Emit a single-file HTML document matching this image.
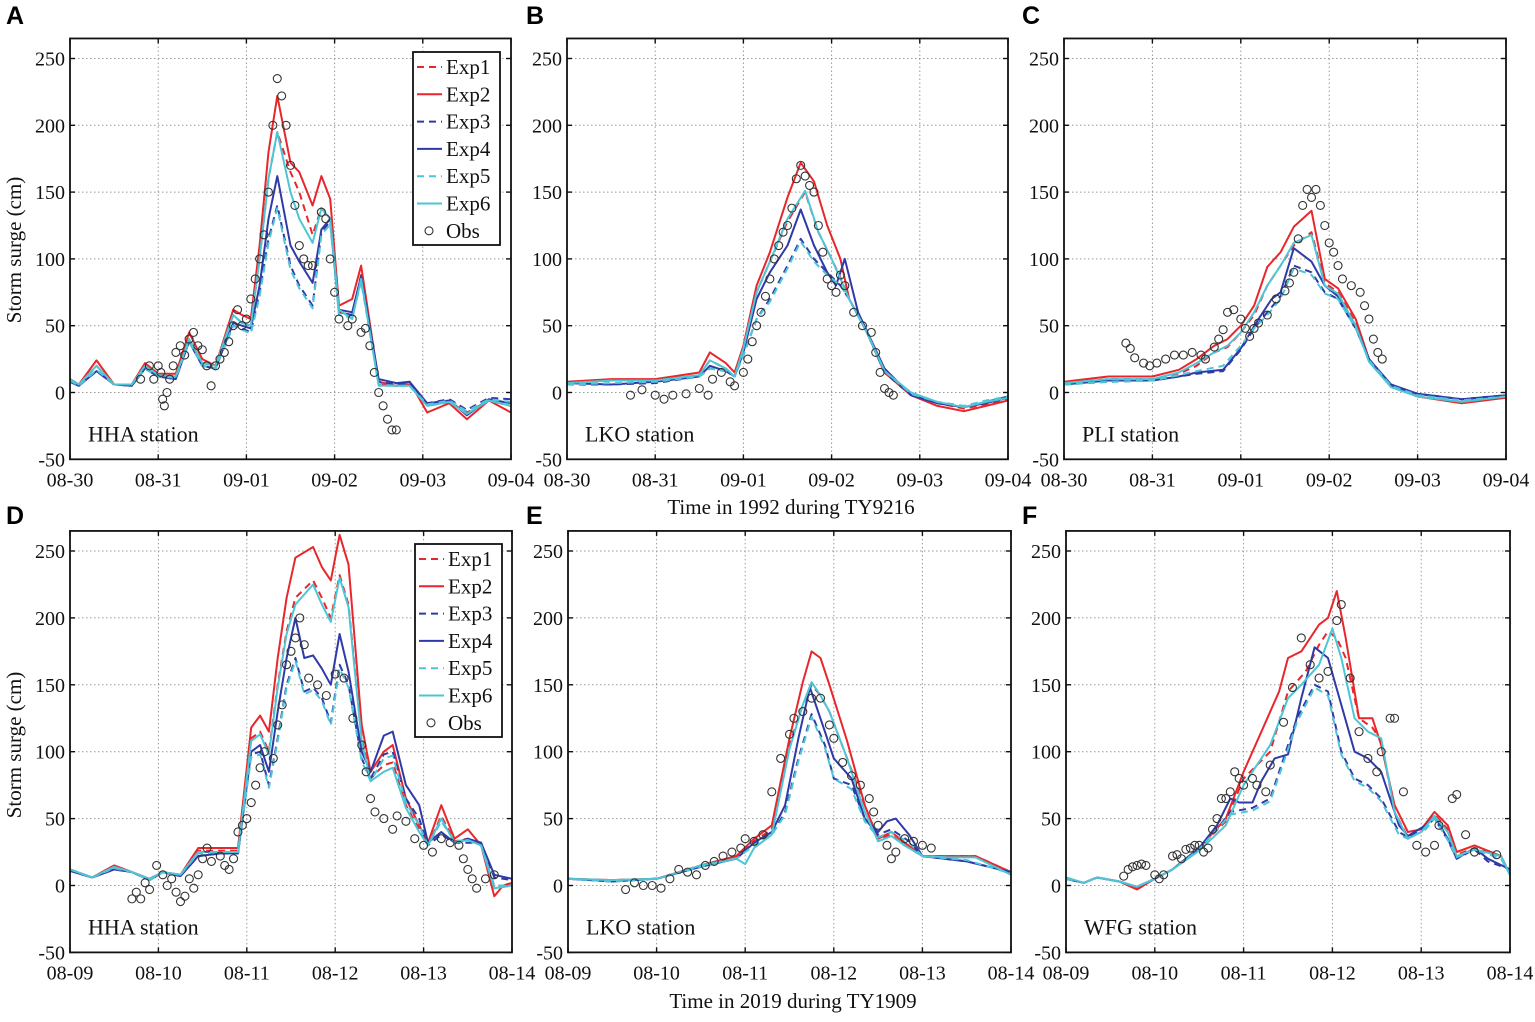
<!DOCTYPE html>
<html><head><meta charset="utf-8"><style>
html,body{margin:0;padding:0;background:#fff;}
svg{display:block;}
text{font-family:"Liberation Serif",serif;fill:#111;}
.lab{font-family:"Liberation Sans",sans-serif;font-weight:bold;font-size:25px;fill:#000;}
</style></head><body>
<svg id="fig" width="1535" height="1022" viewBox="0 0 1535 1022" xmlns="http://www.w3.org/2000/svg">
<text class="lab" x="6" y="24">A</text>
<text class="lab" x="526" y="24">B</text>
<text class="lab" x="1022" y="24">C</text>
<text class="lab" x="6" y="524">D</text>
<text class="lab" x="526" y="524">E</text>
<text class="lab" x="1022" y="524">F</text>
<text x="21" y="250" font-size="21" text-anchor="middle" transform="rotate(-90 21 250)">Storm surge (cm)</text>
<text x="21" y="745" font-size="21" text-anchor="middle" transform="rotate(-90 21 745)">Storm surge (cm)</text>
<text x="791" y="514" font-size="21" text-anchor="middle">Time in 1992 during TY9216</text>
<text x="793" y="1008" font-size="21" text-anchor="middle">Time in 2019 during TY1909</text>
</svg>
<script>
const yTicks=[250,200,150,100,50,0,-50];
const xTicks1992=["08-30","08-31","09-01","09-02","09-03","09-04"];
const xTicks2019=["08-09","08-10","08-11","08-12","08-13","08-14"];
const seriesNames=["Exp1","Exp2","Exp3","Exp4","Exp5","Exp6"];

// Panel A HHA 1992
const A_exp1=[[0,10],[0.1,6],[0.3,20],[0.5,6],[0.7,6],[0.85,20],[1.0,13],[1.2,12],[1.35,40],[1.5,22],[1.65,20],[1.85,58],[1.95,52],[2.05,50],[2.15,100],[2.25,160],[2.35,195],[2.5,165],[2.6,150],[2.75,118],[2.85,138],[2.95,130],[3.05,60],[3.2,58],[3.3,88],[3.5,6],[3.7,5],[3.85,6],[4.05,-10],[4.3,-7],[4.5,-15],[4.75,-6],[5.0,-10]];
const A_exp2=[[0,10],[0.1,6],[0.3,24],[0.5,6],[0.7,6],[0.85,22],[1.0,14],[1.2,14],[1.35,45],[1.5,25],[1.65,20],[1.85,62],[1.95,58],[2.05,55],[2.15,110],[2.25,180],[2.35,222],[2.5,172],[2.6,165],[2.75,140],[2.85,162],[2.95,145],[3.05,65],[3.2,70],[3.3,95],[3.5,8],[3.7,5],[3.85,8],[4.05,-15],[4.3,-8],[4.5,-20],[4.75,-6],[5.0,-15]];
const A_exp3=[[0,8],[0.1,5],[0.3,16],[0.5,6],[0.7,5],[0.85,18],[1.0,12],[1.2,10],[1.35,38],[1.5,20],[1.65,18],[1.85,50],[1.95,48],[2.05,45],[2.15,75],[2.25,115],[2.35,140],[2.5,95],[2.6,80],[2.75,65],[2.85,120],[2.95,128],[3.05,60],[3.2,58],[3.3,85],[3.5,8],[3.7,6],[3.85,6],[4.05,-8],[4.3,-5],[4.5,-13],[4.75,-4],[5.0,-5]];
const A_exp4=[[0,8],[0.1,5],[0.3,16],[0.5,6],[0.7,5],[0.85,18],[1.0,12],[1.2,10],[1.35,38],[1.5,20],[1.65,18],[1.85,52],[1.95,50],[2.05,48],[2.15,80],[2.25,130],[2.35,162],[2.5,110],[2.6,98],[2.75,82],[2.85,122],[2.95,130],[3.05,62],[3.2,60],[3.3,87],[3.5,10],[3.7,7],[3.85,8],[4.05,-8],[4.3,-6],[4.5,-17],[4.75,-5],[5.0,-8]];
const A_exp5=[[0,9],[0.1,5],[0.3,17],[0.5,6],[0.7,6],[0.85,18],[1.0,12],[1.2,11],[1.35,38],[1.5,20],[1.65,18],[1.85,50],[1.95,47],[2.05,44],[2.15,72],[2.25,112],[2.35,138],[2.5,92],[2.6,78],[2.75,63],[2.85,118],[2.95,126],[3.05,58],[3.2,56],[3.3,83],[3.5,6],[3.7,5],[3.85,5],[4.05,-9],[4.3,-6],[4.5,-14],[4.75,-5],[5.0,-7]];
const A_exp6=[[0,10],[0.1,6],[0.3,20],[0.5,6],[0.7,6],[0.85,20],[1.0,13],[1.2,12],[1.35,40],[1.5,22],[1.65,20],[1.85,58],[1.95,52],[2.05,50],[2.15,100],[2.25,160],[2.35,195],[2.5,150],[2.6,130],[2.75,112],[2.85,138],[2.95,130],[3.05,62],[3.2,55],[3.3,85],[3.5,5],[3.7,5],[3.85,5],[4.05,-10],[4.3,-7],[4.5,-16],[4.75,-6],[5.0,-10]];
const A_obs=[[0.8,10],[0.9,20],[0.95,10],[1.0,20],[1.03,15],[1.05,-5],[1.07,-10],[1.1,0],[1.13,10],[1.17,20],[1.2,30],[1.25,35],[1.3,28],[1.35,40],[1.4,45],[1.45,35],[1.5,32],[1.55,20],[1.6,5],[1.65,20],[1.7,25],[1.75,30],[1.8,38],[1.85,50],[1.9,62],[1.95,50],[2.0,55],[2.05,70],[2.1,85],[2.15,100],[2.2,118],[2.25,150],[2.3,200],[2.35,235],[2.4,222],[2.45,200],[2.5,170],[2.55,140],[2.6,110],[2.65,100],[2.7,95],[2.75,95],[2.85,135],[2.9,130],[2.95,100],[3.0,75],[3.05,55],[3.15,50],[3.2,55],[3.3,45],[3.35,48],[3.4,35],[3.45,15],[3.5,0],[3.55,-10],[3.6,-20],[3.65,-28],[3.7,-28]];

// Panel B LKO 1992
const B_exp1=[[0,7],[0.5,9],[1.0,9],[1.5,13],[1.62,24],[1.8,18],[1.9,12],[2.0,33],[2.15,75],[2.3,98],[2.5,128],[2.7,150],[2.85,120],[3.0,100],[3.1,86],[3.2,70],[3.4,45],[3.6,15],[3.9,-2],[4.2,-8],[4.5,-12],[4.75,-9],[5.0,-5]];
const B_exp2=[[0,8],[0.5,10],[1.0,10],[1.5,15],[1.62,30],[1.8,22],[1.9,15],[2.0,35],[2.15,80],[2.3,105],[2.5,146],[2.65,172],[2.8,158],[2.95,125],[3.1,100],[3.2,70],[3.4,45],[3.6,15],[3.9,-2],[4.2,-10],[4.5,-14],[4.75,-10],[5.0,-6]];
const B_exp3=[[0,6],[0.5,6],[1.0,7],[1.5,12],[1.62,18],[1.8,16],[1.9,12],[2.0,28],[2.15,55],[2.3,70],[2.5,95],[2.65,115],[2.8,100],[2.95,90],[3.1,80],[3.2,70],[3.4,45],[3.6,15],[3.9,-2],[4.2,-8],[4.5,-11],[4.75,-7],[5.0,-3]];
const B_exp4=[[0,7],[0.5,6],[1.0,8],[1.5,12],[1.62,20],[1.8,16],[1.9,12],[2.0,30],[2.15,70],[2.3,90],[2.5,110],[2.65,137],[2.8,110],[2.95,90],[3.05,80],[3.15,100],[3.3,60],[3.6,18],[3.9,-2],[4.2,-8],[4.5,-11],[4.75,-8],[5.0,-4]];
const B_exp5=[[0,6],[0.5,7],[1.0,8],[1.5,12],[1.62,18],[1.8,16],[1.9,12],[2.0,28],[2.15,55],[2.3,68],[2.5,93],[2.65,113],[2.8,98],[2.95,88],[3.1,80],[3.2,70],[3.4,45],[3.6,16],[3.9,-1],[4.2,-7],[4.5,-10],[4.75,-6],[5.0,-3]];
const B_exp6=[[0,7],[0.5,9],[1.0,9],[1.5,13],[1.62,24],[1.8,18],[1.9,12],[2.0,33],[2.15,75],[2.3,98],[2.5,130],[2.7,151],[2.85,120],[3.0,100],[3.1,85],[3.2,70],[3.4,45],[3.6,16],[3.9,0],[4.2,-7],[4.5,-11],[4.75,-7],[5.0,-4]];
const B_obs=[[0.72,-2],[0.85,2],[1.0,-2],[1.1,-5],[1.2,-2],[1.35,-1],[1.5,3],[1.6,-2],[1.65,10],[1.75,15],[1.85,8],[1.9,5],[2.0,15],[2.05,25],[2.1,38],[2.15,50],[2.2,60],[2.25,72],[2.3,85],[2.35,100],[2.4,110],[2.45,120],[2.5,125],[2.55,138],[2.6,160],[2.65,170],[2.7,162],[2.75,155],[2.8,150],[2.85,125],[2.9,105],[2.95,85],[3.0,80],[3.05,75],[3.1,88],[3.15,80],[3.25,60],[3.35,50],[3.45,45],[3.5,30],[3.55,15],[3.6,3],[3.65,0],[3.7,-2]];

// Panel C PLI 1992
const C_exp1=[[0,7],[0.5,10],[1.0,10],[1.3,14],[1.5,20],[1.7,30],[1.85,34],[2.0,45],[2.15,58],[2.3,80],[2.45,95],[2.6,110],[2.8,120],[2.95,82],[3.1,75],[3.3,52],[3.45,25],[3.7,5],[4.0,-3],[4.5,-7],[5.0,-3]];
const C_exp2=[[0,8],[0.5,12],[1.0,12],[1.3,17],[1.5,25],[1.7,35],[1.85,40],[2.0,50],[2.15,65],[2.3,94],[2.45,105],[2.6,124],[2.8,136],[2.95,85],[3.1,78],[3.3,55],[3.45,25],[3.7,5],[4.0,-3],[4.5,-8],[5.0,-4]];
const C_exp3=[[0,6],[0.5,8],[1.0,9],[1.3,12],[1.5,14],[1.8,16],[2.0,32],[2.15,48],[2.3,60],[2.45,72],[2.6,95],[2.8,90],[2.95,75],[3.1,70],[3.3,48],[3.45,25],[3.7,5],[4.0,-1],[4.5,-5],[5.0,-2]];
const C_exp4=[[0,6],[0.5,9],[1.0,9],[1.3,12],[1.5,15],[1.8,17],[2.0,33],[2.2,55],[2.35,70],[2.45,75],[2.6,108],[2.8,98],[2.95,80],[3.1,72],[3.3,50],[3.45,25],[3.7,6],[4.0,-1],[4.5,-5],[5.0,-2]];
const C_exp5=[[0,6],[0.5,8],[1.0,9],[1.3,13],[1.5,16],[1.8,20],[2.0,35],[2.15,48],[2.3,58],[2.45,70],[2.6,93],[2.8,88],[2.95,74],[3.1,70],[3.3,48],[3.45,24],[3.7,5],[4.0,-2],[4.5,-6],[5.0,-3]];
const C_exp6=[[0,7],[0.5,10],[1.0,10],[1.3,15],[1.5,22],[1.7,30],[1.85,35],[2.0,45],[2.15,60],[2.3,80],[2.45,95],[2.6,112],[2.8,118],[2.95,80],[3.1,74],[3.3,50],[3.45,23],[3.7,4],[4.0,-3],[4.5,-7],[5.0,-3]];
const C_obs=[[0.7,37],[0.75,33],[0.8,26],[0.9,22],[0.97,20],[1.05,22],[1.15,25],[1.25,28],[1.35,28],[1.45,30],[1.55,28],[1.6,25],[1.7,34],[1.75,40],[1.8,47],[1.85,60],[1.92,62],[2.0,55],[2.05,48],[2.1,42],[2.15,48],[2.2,52],[2.3,58],[2.4,70],[2.5,76],[2.55,82],[2.6,90],[2.65,115],[2.7,140],[2.75,152],[2.8,146],[2.85,152],[2.9,140],[2.95,125],[3.0,112],[3.05,105],[3.1,95],[3.15,85],[3.25,80],[3.35,75],[3.4,65],[3.45,55],[3.5,40],[3.55,30],[3.6,25]];

// Panel D HHA 2019
const D_exp1=[[0,12],[0.25,6],[0.5,14],[0.7,10],[0.9,5],[1.05,10],[1.25,8],[1.45,26],[1.7,26],[1.9,26],[2.05,110],[2.15,115],[2.25,100],[2.35,150],[2.45,190],[2.55,215],[2.75,228],[2.85,215],[2.95,200],[3.05,232],[3.15,210],[3.3,110],[3.4,80],[3.55,90],[3.65,92],[3.8,60],[3.95,42],[4.05,30],[4.2,52],[4.35,33],[4.5,35],[4.65,30],[4.8,-2],[5.0,0]];
const D_exp2=[[0,12],[0.25,6],[0.5,15],[0.7,10],[0.9,5],[1.05,10],[1.25,8],[1.45,28],[1.7,28],[1.9,28],[2.05,118],[2.15,127],[2.25,115],[2.35,170],[2.45,215],[2.55,245],[2.75,253],[2.85,238],[2.95,228],[3.05,262],[3.15,240],[3.3,120],[3.4,85],[3.55,100],[3.65,105],[3.8,65],[3.95,45],[4.05,32],[4.2,60],[4.35,35],[4.5,42],[4.65,30],[4.8,-8],[4.9,0],[5.0,2]];
const D_exp3=[[0,11],[0.25,6],[0.5,12],[0.7,10],[0.9,4],[1.05,10],[1.25,7],[1.45,22],[1.7,24],[1.9,24],[2.05,98],[2.15,100],[2.25,75],[2.35,110],[2.45,150],[2.55,170],[2.65,145],[2.75,148],[2.85,140],[2.95,122],[3.05,165],[3.15,150],[3.3,95],[3.4,80],[3.55,98],[3.65,100],[3.8,65],[3.95,50],[4.05,30],[4.2,38],[4.35,32],[4.5,32],[4.65,32],[4.8,6],[5.0,4]];
const D_exp4=[[0,11],[0.25,6],[0.5,12],[0.7,10],[0.9,4],[1.05,10],[1.25,7],[1.45,22],[1.7,24],[1.9,24],[2.05,100],[2.15,105],[2.25,85],[2.35,130],[2.45,170],[2.55,200],[2.65,170],[2.75,172],[2.85,162],[2.95,150],[3.05,188],[3.15,160],[3.3,100],[3.4,85],[3.55,112],[3.65,115],[3.8,75],[3.95,60],[4.05,32],[4.2,40],[4.35,32],[4.5,35],[4.65,32],[4.8,8],[5.0,5]];
const D_exp5=[[0,12],[0.25,6],[0.5,13],[0.7,10],[0.9,4],[1.05,10],[1.25,8],[1.45,24],[1.7,25],[1.9,25],[2.05,96],[2.15,98],[2.25,73],[2.35,108],[2.45,148],[2.55,168],[2.65,143],[2.75,146],[2.85,138],[2.95,120],[3.05,162],[3.15,148],[3.3,93],[3.4,78],[3.55,95],[3.65,97],[3.8,62],[3.95,45],[4.05,30],[4.2,48],[4.35,33],[4.5,34],[4.65,30],[4.8,0],[5.0,0]];
const D_exp6=[[0,12],[0.25,6],[0.5,14],[0.7,10],[0.9,5],[1.05,10],[1.25,8],[1.45,25],[1.7,25],[1.9,25],[2.05,108],[2.15,113],[2.25,98],[2.35,148],[2.45,188],[2.55,210],[2.75,225],[2.85,210],[2.95,197],[3.05,230],[3.15,208],[3.3,108],[3.4,78],[3.55,85],[3.65,88],[3.8,58],[3.95,40],[4.05,30],[4.2,50],[4.35,32],[4.5,34],[4.65,30],[4.8,-2],[5.0,0]];
const D_obs=[[0.7,-10],[0.75,-5],[0.8,-10],[0.85,2],[0.9,-3],[0.98,15],[1.05,8],[1.1,0],[1.15,5],[1.2,-5],[1.25,-12],[1.3,-8],[1.35,5],[1.4,-2],[1.45,8],[1.5,20],[1.55,28],[1.6,18],[1.7,22],[1.75,15],[1.8,12],[1.85,20],[1.9,40],[1.95,45],[2.0,50],[2.05,62],[2.1,75],[2.15,88],[2.2,100],[2.3,95],[2.35,120],[2.4,135],[2.45,165],[2.5,175],[2.55,185],[2.6,200],[2.65,180],[2.7,155],[2.8,150],[2.9,142],[3.0,158],[3.1,155],[3.2,125],[3.3,105],[3.35,85],[3.4,65],[3.45,55],[3.55,50],[3.65,42],[3.7,52],[3.8,48],[3.9,35],[4.0,30],[4.1,25],[4.2,35],[4.3,32],[4.4,30],[4.45,20],[4.5,12],[4.55,5],[4.6,-2],[4.7,5],[4.8,8]];

// Panel E LKO 2019
const E_exp1=[[0,5],[0.5,4],[1.0,5],[1.5,15],[1.9,22],[2.1,33],[2.3,42],[2.5,105],[2.65,135],[2.75,150],[2.85,142],[2.95,130],[3.15,95],[3.35,60],[3.5,35],[3.65,38],[3.8,30],[4.0,22],[4.3,22],[4.6,22],[5.0,10]];
const E_exp2=[[0,5],[0.5,4],[1.0,5],[1.5,15],[1.9,22],[2.1,35],[2.3,45],[2.5,110],[2.65,152],[2.75,175],[2.85,170],[2.95,150],[3.15,108],[3.35,60],[3.5,35],[3.65,40],[3.8,32],[4.0,22],[4.3,22],[4.6,22],[5.0,10]];
const E_exp3=[[0,5],[0.5,3],[1.0,5],[1.5,14],[1.9,20],[2.1,32],[2.3,38],[2.45,55],[2.6,95],[2.75,128],[2.9,105],[3.0,80],[3.2,75],[3.35,50],[3.5,38],[3.65,42],[3.85,33],[4.0,22],[4.5,18],[5.0,10]];
const E_exp4=[[0,5],[0.5,3],[1.0,5],[1.5,14],[1.9,20],[2.1,32],[2.3,40],[2.45,60],[2.6,110],[2.73,148],[2.9,115],[3.0,95],[3.2,80],[3.35,50],[3.5,40],[3.6,48],[3.7,50],[3.85,38],[4.0,22],[4.5,18],[5.0,10]];
const E_exp5=[[0,5],[0.5,3],[1.0,5],[1.5,14],[1.9,20],[2.1,30],[2.3,38],[2.45,53],[2.6,93],[2.75,126],[2.9,103],[3.0,80],[3.2,72],[3.35,48],[3.5,36],[3.65,40],[3.85,32],[4.0,22],[4.5,19],[5.0,9]];
const E_exp6=[[0,5],[0.5,4],[1.0,5],[1.5,15],[1.9,20],[2.0,16],[2.1,28],[2.3,38],[2.5,102],[2.65,135],[2.75,152],[2.85,142],[2.95,130],[3.15,95],[3.35,55],[3.5,33],[3.65,37],[3.8,30],[4.0,22],[4.3,21],[4.6,21],[5.0,8]];
const E_obs=[[0.65,-3],[0.75,2],[0.85,0],[0.95,0],[1.05,-2],[1.15,5],[1.25,12],[1.35,10],[1.45,8],[1.55,15],[1.65,18],[1.75,22],[1.85,25],[1.95,28],[2.0,35],[2.1,33],[2.2,38],[2.3,70],[2.4,95],[2.5,113],[2.55,125],[2.65,130],[2.75,140],[2.85,140],[2.95,120],[3.0,110],[3.1,92],[3.2,82],[3.3,75],[3.4,65],[3.45,55],[3.5,45],[3.6,30],[3.65,20],[3.7,25],[3.8,35],[3.9,33],[4.0,30],[4.1,28]];

// Panel F WFG 2019
const F_exp1=[[0,5],[0.2,2],[0.35,6],[0.6,3],[0.8,-2],[1.0,5],[1.2,12],[1.5,28],[1.8,48],[2.0,80],[2.3,100],[2.5,145],[2.7,160],[2.85,180],[2.95,190],[3.05,185],[3.15,170],[3.3,125],[3.45,118],[3.55,108],[3.7,55],[3.85,36],[4.0,40],[4.15,53],[4.3,42],[4.4,23],[4.6,28],[4.9,22],[5.0,8]];
const F_exp2=[[0,5],[0.2,2],[0.35,6],[0.6,3],[0.8,-3],[1.0,5],[1.2,12],[1.5,28],[1.8,50],[2.0,85],[2.2,115],[2.4,145],[2.5,170],[2.65,175],[2.85,195],[2.95,200],[3.05,220],[3.15,185],[3.3,125],[3.45,125],[3.55,105],[3.7,60],[3.85,40],[4.0,42],[4.15,55],[4.3,45],[4.4,25],[4.6,30],[4.9,22],[5.0,8]];
const F_exp3=[[0,5],[0.2,2],[0.35,6],[0.6,3],[0.8,-1],[1.0,5],[1.2,12],[1.5,28],[1.7,42],[1.85,55],[2.1,58],[2.3,65],[2.45,95],[2.6,125],[2.8,150],[2.95,145],[3.1,100],[3.25,80],[3.4,75],[3.55,65],[3.75,40],[3.85,36],[4.05,44],[4.15,50],[4.3,34],[4.4,20],[4.6,27],[4.75,18],[5.0,12]];
const F_exp4=[[0,5],[0.2,2],[0.35,6],[0.6,3],[0.8,-1],[1.0,5],[1.2,12],[1.5,28],[1.7,45],[1.85,65],[1.95,62],[2.1,62],[2.2,78],[2.35,95],[2.5,98],[2.65,140],[2.8,178],[2.95,170],[3.1,135],[3.25,100],[3.4,95],[3.55,85],[3.75,45],[3.85,37],[4.05,45],[4.15,52],[4.3,35],[4.4,20],[4.6,28],[4.75,20],[5.0,12]];
const F_exp5=[[0,5],[0.2,2],[0.35,6],[0.6,3],[0.8,-1],[1.0,5],[1.2,12],[1.5,27],[1.7,42],[1.85,53],[2.1,56],[2.3,63],[2.45,92],[2.6,122],[2.8,148],[2.95,142],[3.1,98],[3.25,78],[3.4,73],[3.55,63],[3.75,38],[3.85,35],[4.05,42],[4.15,50],[4.3,34],[4.4,21],[4.6,27],[4.9,20],[5.0,8]];
const F_exp6=[[0,6],[0.2,2],[0.35,6],[0.6,3],[0.8,-1],[1.0,5],[1.2,12],[1.5,26],[1.8,45],[2.0,75],[2.3,105],[2.5,140],[2.65,150],[2.85,165],[3.0,192],[3.1,170],[3.25,125],[3.4,115],[3.55,110],[3.7,55],[3.85,35],[4.0,40],[4.15,52],[4.3,40],[4.4,22],[4.6,27],[4.9,22],[5.0,8]];
const F_obs=[[0.65,7],[0.7,12],[0.75,14],[0.8,15],[0.85,16],[0.9,15],[1.0,8],[1.05,5],[1.1,8],[1.2,22],[1.25,23],[1.3,20],[1.35,27],[1.4,28],[1.45,30],[1.5,30],[1.55,25],[1.6,28],[1.65,42],[1.7,50],[1.75,65],[1.8,65],[1.85,70],[1.9,85],[1.95,80],[2.0,75],[2.1,80],[2.15,75],[2.25,70],[2.3,90],[2.45,122],[2.55,148],[2.65,185],[2.75,165],[2.85,155],[2.95,160],[3.05,198],[3.1,210],[3.2,155],[3.3,115],[3.4,95],[3.5,85],[3.55,100],[3.65,125],[3.7,125],[3.8,70],[3.95,30],[4.05,25],[4.15,30],[4.2,45],[4.35,65],[4.4,68],[4.5,38],[4.6,25],[4.85,23]];

const styles=[{c:"#e8262b",d:"7,5"},{c:"#e8262b",d:""},{c:"#2f3aa8",d:"7,5"},{c:"#2f3aa8",d:""},{c:"#4cc6d6",d:"7,5"},{c:"#4cc6d6",d:""}];
const NS="http://www.w3.org/2000/svg";
const svg=document.getElementById('fig');
function mk(tag,attrs,parent){const e=document.createElementNS(NS,tag);for(const k in attrs)e.setAttribute(k,attrs[k]);(parent||svg).appendChild(e);return e;}

const panels=[
 {id:"a",x0:70,x1:511,y0:392.5,y250:58.5,st:"HHA station",ticks:xTicks1992,s:[A_exp1,A_exp2,A_exp3,A_exp4,A_exp5,A_exp6],o:A_obs,leg:[413,52]},
 {id:"b",x0:567,x1:1008,y0:392.5,y250:58.5,st:"LKO station",ticks:xTicks1992,s:[B_exp1,B_exp2,B_exp3,B_exp4,B_exp5,B_exp6],o:B_obs},
 {id:"c",x0:1064,x1:1506,y0:392.5,y250:58.5,st:"PLI station",ticks:xTicks1992,s:[C_exp1,C_exp2,C_exp3,C_exp4,C_exp5,C_exp6],o:C_obs},
 {id:"d",x0:70,x1:512,y0:885.5,y250:551,st:"HHA station",ticks:xTicks2019,s:[D_exp1,D_exp2,D_exp3,D_exp4,D_exp5,D_exp6],o:D_obs,leg:[415,544]},
 {id:"e",x0:568,x1:1011,y0:885.5,y250:551,st:"LKO station",ticks:xTicks2019,s:[E_exp1,E_exp2,E_exp3,E_exp4,E_exp5,E_exp6],o:E_obs},
 {id:"f",x0:1066,x1:1510,y0:885.5,y250:551,st:"WFG station",ticks:xTicks2019,s:[F_exp1,F_exp2,F_exp3,F_exp4,F_exp5,F_exp6],o:F_obs}
];

panels.forEach(p=>{
 const X=d=>p.x0+d/5*(p.x1-p.x0);
 const Y=v=>p.y0-v*(p.y0-p.y250)/250;
 const top=Y(265),bot=Y(-50);
 const g=mk('g',{});
 
 
 const clipId='clip'+p.id;
 const cp=mk('clipPath',{id:clipId},g);mk('rect',{x:p.x0,y:top,width:p.x1-p.x0,height:bot-top},cp);
 yTicks.forEach(v=>{
  if(v>-50){const l=mk('line',{x1:p.x0,x2:p.x1,y1:Y(v),y2:Y(v),stroke:"#999","stroke-width":1,"stroke-dasharray":"1.5,2.5"},g);
  }
  mk('line',{x1:p.x0,x2:p.x0+5,y1:Y(v),y2:Y(v),stroke:"#111","stroke-width":1.4},g);
  mk('line',{x1:p.x1-5,x2:p.x1,y1:Y(v),y2:Y(v),stroke:"#111","stroke-width":1.4},g);
  const t=mk('text',{x:p.x0-5,y:Y(v)+7,"font-size":20,"text-anchor":"end"},g);t.textContent=v;
  
 });
 p.ticks.forEach((lab,i)=>{
  if(i>0&&i<5){const l=mk('line',{x1:X(i),x2:X(i),y1:top,y2:bot,stroke:"#999","stroke-width":1,"stroke-dasharray":"1.5,2.5"},g);
  }
  mk('line',{x1:X(i),x2:X(i),y1:bot-5,y2:bot,stroke:"#111","stroke-width":1.4},g);
  mk('line',{x1:X(i),x2:X(i),y1:top,y2:top+5,stroke:"#111","stroke-width":1.4},g);
  const t=mk('text',{x:X(i),y:bot+27,"font-size":20,"text-anchor":"middle"},g);t.textContent=lab;
  
 });
 const sg=mk('g',{"clip-path":"url(#"+clipId+")"},g);
 p.s.forEach((arr,k)=>{
  const path=mk('path',{d:arr.map((pt,i)=>(i?'L':'M')+X(pt[0]).toFixed(1)+','+Y(pt[1]).toFixed(1)).join(''),fill:"none",stroke:styles[k].c,"stroke-width":2,"stroke-dasharray":styles[k].d,"stroke-linejoin":"round"},sg);
  
  
 });
 p.o.forEach(pt=>{
  const c=mk('circle',{cx:X(pt[0]),cy:Y(pt[1]),r:4,fill:"none",stroke:"#333","stroke-width":1.1},sg);
  
  
 });
 const box=mk('rect',{x:p.x0,y:top,width:p.x1-p.x0,height:bot-top,fill:"none",stroke:"#111","stroke-width":1.8},g);
 
 const st=mk('text',{x:p.x0+18,y:bot-18,"font-size":22},g);st.textContent=p.st;
 
 if(p.leg){
  const lx=p.leg[0],ly=p.leg[1];
  const lg=mk('g',{},g);
  
  mk('rect',{x:lx,y:ly,width:87,height:193,fill:"#fff",stroke:"#111","stroke-width":1.8},lg);
  const names=seriesNames.concat(["Obs"]);
  names.forEach((n,k)=>{
   const cy=ly+15+k*27.3;
   if(k<6){mk('line',{x1:lx+4,x2:lx+29,y1:cy,y2:cy,stroke:styles[k].c,"stroke-width":2,"stroke-dasharray":styles[k].d},lg);}
   else{mk('circle',{cx:lx+16,cy:cy,r:4,fill:"none",stroke:"#333","stroke-width":1.1},lg);}
   const t=mk('text',{x:lx+33,y:cy+7,"font-size":21},lg);t.textContent=n;
   
  });
 }
});
</script>
</body></html>
